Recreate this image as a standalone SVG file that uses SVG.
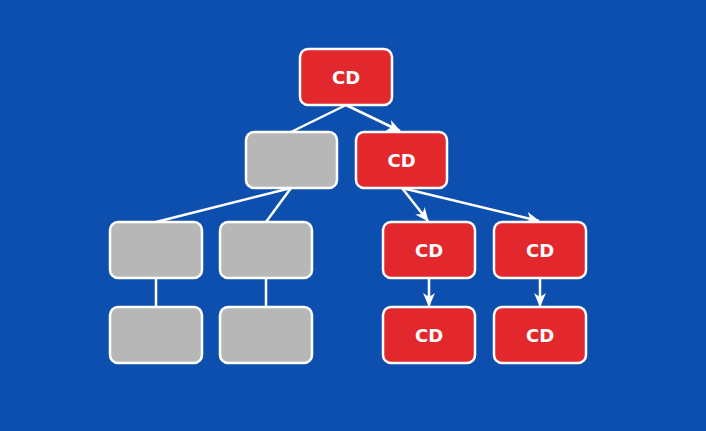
<svg xmlns="http://www.w3.org/2000/svg" width="706" height="431" viewBox="0 0 706 431">
<style>
.n{stroke:#fff;stroke-width:2.5}
.r{fill:#e2282c}
.g{fill:#b7b7b7}
.t{font-family:"DejaVu Sans","Noto Sans",sans-serif;font-weight:bold;font-size:18px;fill:#fff;text-anchor:middle;dominant-baseline:central}
.c{stroke:#fff;stroke-width:2.5;fill:none}
</style>
<defs>
<marker id="a" viewBox="0 0 14 12" refX="13" refY="6" markerWidth="14" markerHeight="12" markerUnits="userSpaceOnUse" orient="auto">
<path d="M0,0 L14,6 L0,12 L4,6 z" fill="#fff"/>
</marker>
</defs>
<rect width="706" height="431" fill="#0d4fae"/>
<g id="connectors">
<line class="c" x1="346" y1="105" x2="291" y2="132"/>
<line class="c" x1="346" y1="105" x2="400" y2="131" marker-end="url(#a)"/>
<line class="c" x1="291" y1="188" x2="156" y2="222"/>
<line class="c" x1="291" y1="188" x2="266" y2="222"/>
<line class="c" x1="402" y1="188" x2="428" y2="221" marker-end="url(#a)"/>
<line class="c" x1="402" y1="188" x2="539" y2="221" marker-end="url(#a)"/>
<line class="c" x1="156" y1="278" x2="156" y2="307"/>
<line class="c" x1="266" y1="278" x2="266" y2="307"/>
<line class="c" x1="429" y1="278" x2="429" y2="306" marker-end="url(#a)"/>
<line class="c" x1="540" y1="278" x2="540" y2="306" marker-end="url(#a)"/>
</g>
<g id="n1"><rect class="n r" x="300" y="49" width="92" height="56" rx="8"/><text class="t" x="346" y="77.5">CD</text></g>
<g id="n2"><rect class="n g" x="246" y="132" width="91" height="56" rx="8"/></g>
<g id="n3"><rect class="n r" x="356" y="132" width="91" height="56" rx="8"/><text class="t" x="401.5" y="160.5">CD</text></g>
<g id="n4"><rect class="n g" x="110" y="222" width="92" height="56" rx="8"/></g>
<g id="n5"><rect class="n g" x="220" y="222" width="92" height="56" rx="8"/></g>
<g id="n6"><rect class="n r" x="383" y="222" width="92" height="56" rx="8"/><text class="t" x="429" y="250.5">CD</text></g>
<g id="n7"><rect class="n r" x="494" y="222" width="92" height="56" rx="8"/><text class="t" x="540" y="250.5">CD</text></g>
<g id="n8"><rect class="n g" x="110" y="307" width="92" height="56" rx="8"/></g>
<g id="n9"><rect class="n g" x="220" y="307" width="92" height="56" rx="8"/></g>
<g id="n10"><rect class="n r" x="383" y="307" width="92" height="56" rx="8"/><text class="t" x="429" y="335.5">CD</text></g>
<g id="n11"><rect class="n r" x="494" y="307" width="92" height="56" rx="8"/><text class="t" x="540" y="335.5">CD</text></g>
</svg>
